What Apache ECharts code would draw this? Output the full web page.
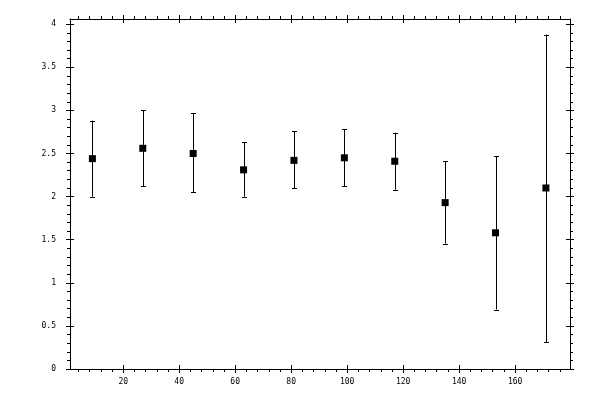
<!DOCTYPE html>
<html><head><meta charset="utf-8">
<script src="https://cdn.jsdelivr.net/npm/echarts@6/dist/echarts.min.js"></script>
<style>html,body{margin:0;padding:0;background:#fff}#c{width:600px;height:400px}</style>
</head><body><div id="c"></div>
<script>
// Data
const xValues = [9, 27, 45, 63, 81, 99, 117, 135, 153, 171];
const meanValues = [2.44, 2.56, 2.50, 2.31, 2.42, 2.45, 2.41, 1.93, 1.58, 2.10];
const lowValues = [2.00, 2.12, 2.05, 2.00, 2.10, 2.12, 2.08, 1.455, 0.69, 0.31];
const highValues = [2.88, 3.00, 2.97, 2.63, 2.76, 2.78, 2.74, 2.41, 2.47, 3.88];
const xMajorTicks = [20, 40, 60, 80, 100, 120, 140, 160];
const xMinorTicks = [];
for (let v = 4; v <= 176; v += 4) if (v % 20 !== 0) xMinorTicks.push(v);
const yMajorTicks = [0, 0.5, 1, 1.5, 2, 2.5, 3, 3.5, 4];
const yMinorTicks = [];
for (let i = 1; i <= 40; i++) if (i % 5 !== 0) yMinorTicks.push(Math.round(i) / 10);

const XMIN = 1, XMAX = 179.6, YMIN = 0, YMAX = 4.06;
const font = { fontFamily: 'DejaVu Sans Mono', fontSize: 8, color: '#000' };
const black = { color: '#000', width: 1 };

function mkX(pos, opts) {
  return Object.assign({
    type: 'value', position: pos, min: XMIN, max: XMAX,
    splitLine: { show: false },
    axisLine: { show: false, onZero: false, lineStyle: black },
    axisTick: { show: false },
    axisLabel: { show: false }
  }, opts);
}
function mkY(pos, opts) {
  return Object.assign({
    type: 'value', position: pos, min: YMIN, max: YMAX,
    splitLine: { show: false },
    axisLine: { show: false, onZero: false, lineStyle: black },
    axisTick: { show: false },
    axisLabel: { show: false }
  }, opts);
}
const tick = (vals, len, inside) => ({ show: true, customValues: vals, length: len, inside: inside, lineStyle: black });

const xAxes = [
  mkX('bottom', { axisLine: { show: true, onZero: false, lineStyle: black }, axisTick: tick(xMinorTicks, 3, false) }),
  mkX('bottom', { axisTick: tick(xMajorTicks, 4, false), axisLabel: Object.assign({ show: true, customValues: xMajorTicks, margin: 9 }, font) }),
  mkX('bottom', { axisTick: tick(xMajorTicks, 4, true) }),
  mkX('top', { axisLine: { show: true, onZero: false, lineStyle: black }, axisTick: tick(xMinorTicks, 3, false) }),
  mkX('top', { axisTick: tick(xMajorTicks, 4, false) }),
  mkX('top', { axisTick: tick(xMajorTicks, 4, true) })
];
const yAxes = [
  mkY('left', { axisLine: { show: true, onZero: false, lineStyle: black }, axisTick: tick(yMinorTicks, 3, false) }),
  mkY('left', { axisTick: tick(yMajorTicks, 4, false), axisLabel: Object.assign({ show: true, customValues: yMajorTicks, margin: 14 }, font) }),
  mkY('left', { axisTick: tick(yMajorTicks, 4, true) }),
  mkY('right', { axisLine: { show: true, onZero: false, lineStyle: black }, axisTick: tick(yMinorTicks, 3, false) }),
  mkY('right', { axisTick: tick(yMajorTicks, 4, false) }),
  mkY('right', { axisTick: tick(yMajorTicks, 4, true) })
];

const pts = xValues.map((x, i) => [x, meanValues[i]]);
const errs = xValues.map((x, i) => [x, lowValues[i], highValues[i]]);

const chart = echarts.init(document.getElementById('c'), null, { renderer: 'canvas' });
chart.setOption({
  animation: false,
  backgroundColor: '#fff',
  grid: { left: 70, right: 30, top: 19, bottom: 31 },
  xAxis: xAxes,
  yAxis: yAxes,
  series: [
    {
      type: 'custom', xAxisIndex: 0, yAxisIndex: 0,
      data: errs,
      renderItem: function (params, api) {
        const lo = api.coord([api.value(0), api.value(1)]);
        const hi = api.coord([api.value(0), api.value(2)]);
        const x = Math.round(lo[0]) + 0.5;
        const w = 2.5;
        const st = { stroke: '#000', lineWidth: 1, fill: null };
        return {
          type: 'group',
          children: [
            { type: 'line', shape: { x1: x, y1: hi[1], x2: x, y2: lo[1] }, style: st },
            { type: 'line', shape: { x1: x - w, y1: Math.round(hi[1]) + 0.5, x2: x + w, y2: Math.round(hi[1]) + 0.5 }, style: st },
            { type: 'line', shape: { x1: x - w, y1: Math.round(lo[1]) + 0.5, x2: x + w, y2: Math.round(lo[1]) + 0.5 }, style: st }
          ]
        };
      },
      z: 2
    },
    {
      type: 'scatter', xAxisIndex: 0, yAxisIndex: 0,
      data: pts, symbol: 'rect', symbolSize: 7,
      itemStyle: { color: '#000', opacity: 1 }, z: 3
    }
  ]
});
</script>
</body></html>
